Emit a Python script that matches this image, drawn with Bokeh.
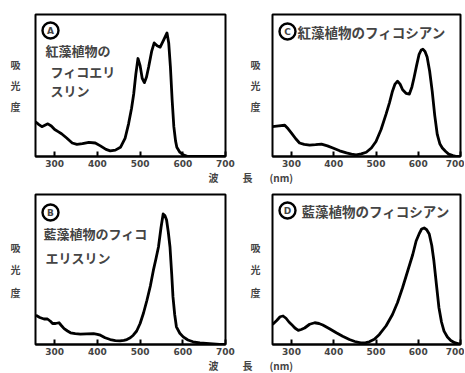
from bokeh.plotting import figure
from bokeh.layouts import gridplot
from bokeh.models import Range1d, FixedTicker, Label, Title
from bokeh.embed import file_html
from bokeh.resources import INLINE

# ---------------- data ----------------
tick_values = [300, 400, 500, 600, 700]
y_label_chars = ["吸", "光", "度"]
y_label_pos = [0.65, 0.50, 0.35]
x_label_parts = ["波", "長\u2003\u2002\u2009(nm)"]

wl_A = [255, 263, 270, 277, 284, 292, 300, 308, 316, 328, 341, 352, 365, 380, 395, 407,
        420, 430, 442, 454, 465, 473, 480, 485, 490, 495, 500, 505, 510, 515, 520, 527,
        533, 540, 547, 555, 563, 567, 571, 575, 579, 583, 586, 593, 601, 612, 700]
ab_A = [0.245, 0.225, 0.21, 0.22, 0.23, 0.215, 0.19, 0.175, 0.16, 0.13, 0.095, 0.085,
        0.09, 0.10, 0.095, 0.075, 0.05, 0.04, 0.045, 0.065, 0.13, 0.23, 0.34, 0.44, 0.58,
        0.69, 0.64, 0.55, 0.52, 0.56, 0.63, 0.74, 0.80, 0.78, 0.77, 0.82, 0.87, 0.80,
        0.63, 0.40, 0.21, 0.11, 0.065, 0.03, 0.012, 0.0, 0.0]

wl_B = [256, 265, 275, 283, 290, 295, 302, 310, 316, 322, 330, 337, 348, 360, 375, 391,
        400, 407, 418, 430, 442, 453, 462, 469, 477, 484, 492, 500, 508, 516, 524, 531,
        537, 543, 549, 554, 558, 562, 566, 570, 574, 577, 581, 585, 593, 601, 612, 624,
        640, 655, 686, 700]
ab_B = [0.195, 0.18, 0.17, 0.17, 0.155, 0.14, 0.14, 0.145, 0.125, 0.106, 0.09, 0.078,
        0.072, 0.069, 0.071, 0.073, 0.068, 0.062, 0.045, 0.033, 0.026, 0.024, 0.028,
        0.033, 0.045, 0.062, 0.09, 0.14, 0.21, 0.295, 0.39, 0.494, 0.57, 0.65, 0.78,
        0.87, 0.86, 0.83, 0.75, 0.65, 0.47, 0.317, 0.2, 0.118, 0.075, 0.051, 0.03,
        0.018, 0.01, 0.007, 0.0, 0.0]

wl_C = [255, 270, 284, 292, 300, 310, 319, 330, 343, 357, 371, 385, 398, 414, 430, 442,
        453, 465, 477, 489, 500, 512, 524, 532, 539, 545, 551, 557, 563, 571, 579, 585,
        590, 596, 602, 607, 611, 616, 621, 627, 633, 639, 645, 651, 657, 665, 672, 682,
        691, 700]
ab_C = [0.21, 0.215, 0.22, 0.195, 0.165, 0.125, 0.095, 0.085, 0.08, 0.083, 0.087, 0.075,
        0.06, 0.04, 0.025, 0.016, 0.012, 0.018, 0.03, 0.06, 0.106, 0.19, 0.30, 0.38,
        0.46, 0.51, 0.53, 0.51, 0.47, 0.445, 0.44, 0.49, 0.555, 0.64, 0.72, 0.75, 0.755,
        0.74, 0.70, 0.60, 0.46, 0.29, 0.155, 0.09, 0.06, 0.035, 0.017, 0.006, 0.0, 0.0]

wl_D = [255, 265, 273, 280, 287, 294, 300, 308, 316, 323, 331, 343, 355, 365, 374, 390,
        406, 421, 437, 450, 464, 476, 484, 496, 508, 524, 539, 551, 563, 575, 587, 595,
        602, 608, 614, 620, 626, 632, 637, 643, 649, 655, 661, 669, 677, 686, 696, 700]
ab_D = [0.134, 0.16, 0.185, 0.19, 0.175, 0.15, 0.134, 0.11, 0.094, 0.10, 0.11, 0.135,
        0.145, 0.14, 0.13, 0.105, 0.078, 0.055, 0.033, 0.02, 0.011, 0.012, 0.018, 0.035,
        0.067, 0.125, 0.20, 0.28, 0.38, 0.49, 0.60, 0.69, 0.737, 0.77, 0.777, 0.765,
        0.737, 0.66, 0.558, 0.40, 0.245, 0.15, 0.089, 0.05, 0.027, 0.012, 0.005, 0.003]

panel_texts = {
    "A": ["紅藻植物の", "フィコエリ", "スリン"],
    "B": ["藍藻植物のフィコ", "エリスリン"],
    "C": ["紅藻植物のフィコシアン"],
    "D": ["藍藻植物のフィコシアン"],
}

X_MIN, X_MAX = 255, 700
Y_MIN, Y_MAX = 0.0, 1.0
JP = "Noto Sans CJK JP"


def make_panel(wl, ab, letter, lines, fig_w, fig_h, bl, br, bt, bb,
               page_x0, page_y0, badge_px, text_px, text_size, ylab_standoff,
               xlab, xlab_offset):
    p = figure(width=fig_w, height=fig_h, output_backend="svg", toolbar_location=None,
               x_range=Range1d(X_MIN, X_MAX), y_range=Range1d(Y_MIN, Y_MAX),
               min_border_left=bl, min_border_right=br, min_border_top=bt,
               min_border_bottom=bb, background_fill_color="white",
               border_fill_color="white")
    fw = fig_w - bl - br
    fh = fig_h - bt - bb
    fx0 = page_x0 + bl
    fy0 = page_y0 + bt

    def to_data(px, py):
        return (X_MIN + (px - fx0) / fw * (X_MAX - X_MIN),
                Y_MIN + (fy0 + fh - py) / fh * (Y_MAX - Y_MIN))

    p.grid.visible = False
    p.outline_line_color = "black"
    p.outline_line_width = 2
    p.outline_line_alpha = 1

    ax = p.xaxis[0]
    ax.ticker = FixedTicker(ticks=tick_values)
    ax.major_tick_in = 5
    ax.major_tick_out = 0
    ax.minor_tick_line_color = None
    ax.axis_line_width = 2
    ax.major_tick_line_width = 2
    ax.major_label_text_font = "DejaVu Sans"
    ax.major_label_text_font_style = "bold"
    ax.major_label_text_font_size = "9px"
    ax.major_label_text_line_height = 1.0
    ax.major_label_standoff = 3

    # y "label" drawn as stacked tick labels
    ya = p.yaxis[0]
    ya.ticker = FixedTicker(ticks=y_label_pos)
    ya.major_label_overrides = {v: c for v, c in zip(y_label_pos, y_label_chars)}
    ya.axis_line_color = None
    ya.major_tick_line_color = None
    ya.minor_tick_line_color = None
    ya.major_tick_in = 0
    ya.major_tick_out = 0
    ya.major_label_standoff = ylab_standoff
    ya.major_label_text_font = JP
    ya.major_label_text_font_style = "bold"
    ya.major_label_text_font_size = "10px"

    p.add_layout(Title(text=xlab, align="left", offset=xlab_offset, standoff=-3,
                       text_font=JP, text_font_style="bold", text_font_size="10px",
                       text_line_height=1.0),
                 "below")

    p.line(wl, ab, line_color="black", line_width=2.8, line_join="round")

    # badge
    bx, by = to_data(*badge_px)
    p.scatter([bx], [by], marker="circle", size=16, fill_color="white",
              line_color="black", line_width=2.4)
    p.add_layout(Label(x=bx, y=by, text=letter, text_align="center",
                       text_baseline="middle", text_font="DejaVu Sans",
                       text_font_style="bold", text_font_size="9px"))
    # panel description
    for (tx, ty), t in zip(text_px, lines):
        dx, dy = to_data(tx, ty)
        p.add_layout(Label(x=dx, y=dy, text=t, text_align="left",
                           text_baseline="middle", text_font=JP,
                           text_font_style="bold", text_font_size=text_size))
    return p


# page geometry (layout origin at page 0,0)
LW, RW = 235, 229
TH, BH = 184, 188

pA = make_panel(wl_A, ab_A, "A", panel_texts["A"], LW, TH, 35, 10, 14, 28, 0, 0,
                (50, 30), [(45, 50), (50, 71), (50, 90)], "13px", 15,
                x_label_parts[0], 173)
pC = make_panel(wl_C, ab_C, "C", panel_texts["C"], RW, TH, 37, 4, 14, 28, LW, 0,
                (287, 31), [(297, 31)], "13.5px", 12,
                x_label_parts[1], -30)
pB = make_panel(wl_B, ab_B, "B", panel_texts["B"], LW, BH, 35, 10, 10, 28, 0, TH,
                (50, 212), [(43, 233), (45, 257)], "13px", 15,
                x_label_parts[0], 173)
pD = make_panel(wl_D, ab_D, "D", panel_texts["D"], RW, BH, 37, 4, 10, 28, LW, TH,
                (287, 210), [(301, 210)], "13.5px", 12,
                x_label_parts[1], -30)

grid = gridplot([[pA, pC], [pB, pD]], toolbar_location=None)

open("out.html", "w").write(file_html(grid, INLINE))
